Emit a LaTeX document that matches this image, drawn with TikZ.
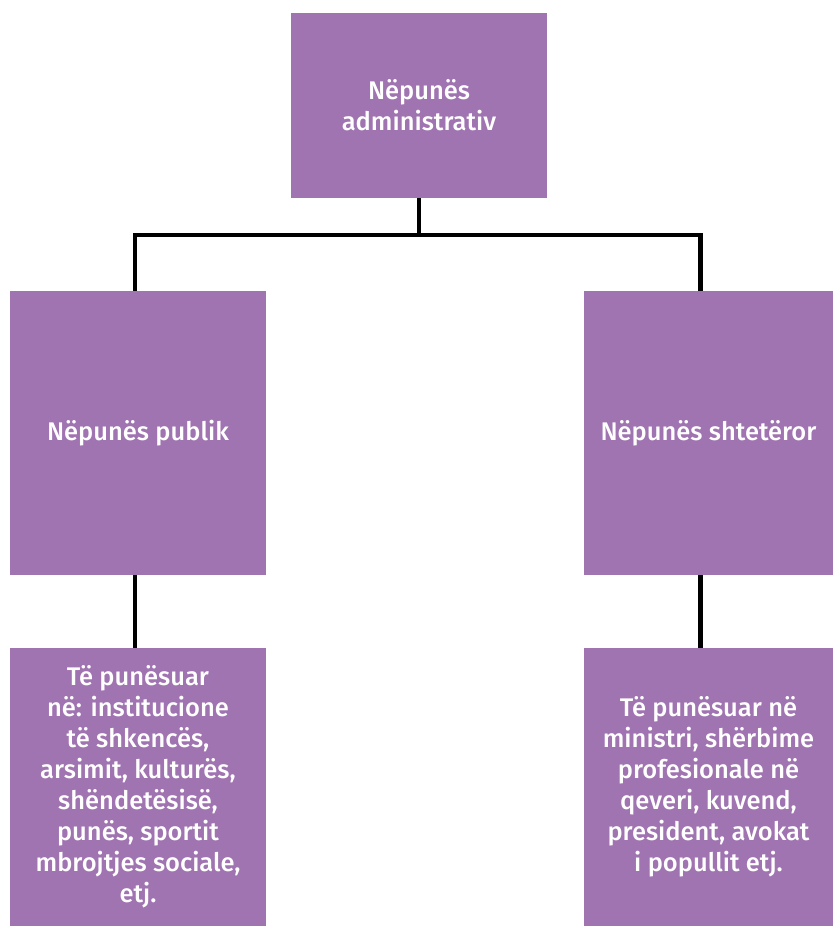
\documentclass[tikz,border=0pt]{standalone}
\usepackage{fontspec}
\setmainfont{Fira Sans}[UprightFont={* Medium}]
\definecolor{lavender}{HTML}{A073B1}
\usetikzlibrary{calc}
\tikzset{
  box/.style={
    fill=lavender, text=white, align=center, inner sep=0pt,
    minimum width=#1, font=\fontsize{25.5}{31}\selectfont
  },
  box/.default=256pt,
  link/.style={line width=4.5pt, color=black},
}

\begin{document}
\begin{tikzpicture}[x=1pt, y=-1pt]
  \useasboundingbox (0,0) rectangle (833,926);

  \node[box, minimum height=185pt] (admin) at (419,105.5)
    {Nëpunës\\administrativ};

  \node[box, minimum height=284pt] (publik) at (138,433)
    {Nëpunës publik};
  \node[box=249pt, minimum height=284pt] (shtet) at (708.5,433)
    {Nëpunës shtetëror};

  \node[box, minimum height=278pt] (pubdesc) at (138,787)
    {Të punësuar\\në: institucione\\të shkencës,\\arsimit, kulturës,\\shëndetësisë,\\punës, sportit\\mbrojtjes sociale,\\etj.};
  \node[box=249pt, minimum height=278pt] (shtetdesc) at (708.5,787)
    {Të punësuar në\\ministri, shërbime\\profesionale në\\qeveri, kuvend,\\president, avokat\\i popullit etj.};

  % lidhjet
  \coordinate (fork) at ($(admin.south)+(0,37)$);
  \draw[link] (admin.south) -- (fork);
  \draw[link] (fork) -| ([xshift=-3pt]publik.north);
  \draw[link] (fork) -| ([xshift=-8pt]shtet.north);
  \draw[link] ([xshift=-3pt]publik.south) -- ([xshift=-3pt]pubdesc.north);
  \draw[link] ([xshift=-8pt]shtet.south) -- ([xshift=-8pt]shtetdesc.north);
\end{tikzpicture}
\end{document}
